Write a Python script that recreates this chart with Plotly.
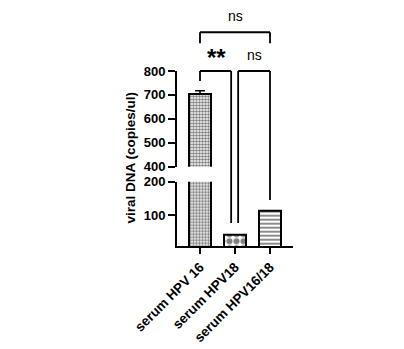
import plotly.graph_objects as go

categories = ["serum HPV 16", "serum HPV18", "serum HPV16/18"]
values = [703, 40, 112]
errors = [14, 0, 0]
patterns = [".", ".", "-"]

low_range = [7, 200]
high_range = [400, 800]
low_ticks = [100, 200]
high_ticks = [400, 500, 600, 700, 800]

W, H = 404, 349
L, R, T, B = 177, 111, 71, 103
ph = H - T - B
low_dom = [0, (246 - 181.7) / ph]
high_dom = [(246 - 166.7) / ph, 1]

def py_high(v):
    return high_dom[0] + (v - high_range[0]) / (high_range[1] - high_range[0]) * (high_dom[1] - high_dom[0])

def py_low(v):
    return low_dom[0] + (v - low_range[0]) / (low_range[1] - low_range[0]) * (low_dom[1] - low_dom[0])

xs = list(range(len(categories)))
xr = [-0.657, 2.657]

def px(i):
    return (i - xr[0]) / (xr[1] - xr[0])

pat_sizes = [3, 7, 4]
pat_sol = [0.55, 0.6, 0.45]

fig = go.Figure()
for yax in ["y", "y2"]:
    for i in xs:
        fig.add_trace(go.Bar(
            x=[i], y=[values[i]], yaxis=yax, width=0.62,
            marker=dict(color="white", line=dict(color="black", width=2),
                        pattern=dict(shape=patterns[i], fgcolor="black", bgcolor="white",
                                     size=pat_sizes[i], solidity=pat_sol[i])),
            error_y=dict(type="data", array=[errors[i]], symmetric=False, arrayminus=[0],
                         color="black", thickness=1.5, width=5, visible=(yax == "y2" and errors[i] > 0)),
            showlegend=False, hoverinfo="skip"))

font_t = dict(family="Liberation Sans", size=13, color="black")
font_x = dict(family="Liberation Sans", size=13.5, color="black")
fig.update_layout(
    width=W, height=H, margin=dict(l=L, r=R, t=T, b=B, autoexpand=False),
    plot_bgcolor="white", paper_bgcolor="white", bargap=0,
    xaxis=dict(range=xr, tickvals=xs, ticktext=["<b>%s</b>" % c for c in categories],
               tickangle=-45, showline=True, linecolor="black", linewidth=2,
               ticks="outside", ticklen=6, tickwidth=1.5, tickcolor="black", automargin=False,
               showgrid=False, zeroline=False, tickfont=font_x, anchor="y"),
    yaxis=dict(domain=low_dom, range=low_range, tickvals=low_ticks, automargin=False,
               ticktext=["<b>%d</b>" % t for t in low_ticks],
               showline=True, linecolor="black", linewidth=2, ticks="outside", ticklen=7,
               tickwidth=2, tickcolor="black", showgrid=False, zeroline=False, tickfont=font_t),
    yaxis2=dict(domain=high_dom, range=high_range, tickvals=high_ticks, automargin=False,
                ticktext=["<b>%d</b>" % t for t in high_ticks], anchor="x",
                showline=True, linecolor="black", linewidth=2, ticks="outside", ticklen=7,
                tickwidth=2, tickcolor="black", showgrid=False, zeroline=False, tickfont=font_t),
)

shapes = []
def seg(x0, y0, x1, y1):
    shapes.append(dict(type="line", xref="paper", yref="paper", x0=x0, y0=y0, x1=x1, y1=y1,
                       line=dict(color="black", width=1.8)))

# ** bracket
top = py_high(800)
seg(px(0), top, px(0.89), top)
seg(px(0), top, px(0), py_high(758))
seg(px(0.89), top, px(0.89), py_low(76))
# ns bracket (HPV18 vs HPV16/18)
seg(px(1.09), top, px(2), top)
seg(px(1.09), top, px(1.09), py_low(76))
seg(px(2), top, px(2), py_low(145))
# top ns bracket
top2 = py_high(962)
seg(px(0), top2, px(2), top2)
seg(px(0), top2, px(0), py_high(916))
seg(px(2), top2, px(2), py_high(916))
fig.update_layout(shapes=shapes)

ann = [
    dict(x=px(1), y=py_high(1030), text="ns", font=dict(family="Liberation Sans", size=14, color="black")),
    dict(x=px(0.47), y=py_high(858), text="<b>**</b>", font=dict(family="Liberation Sans", size=24, color="black")),
    dict(x=px(1.55), y=py_high(868), text="ns", font=dict(family="Liberation Sans", size=14, color="black")),
    dict(x=(130 - L) / (W - L - R), y=(246 - 157.5) / ph, text="<b>viral DNA (copies/ul)</b>", textangle=-90,
         font=dict(family="Liberation Sans", size=13.5, color="black")),
]
for a in ann:
    a.update(xref="paper", yref="paper", showarrow=False, xanchor="center", yanchor="middle")
fig.update_layout(annotations=ann)

fig.write_html("out.html")
